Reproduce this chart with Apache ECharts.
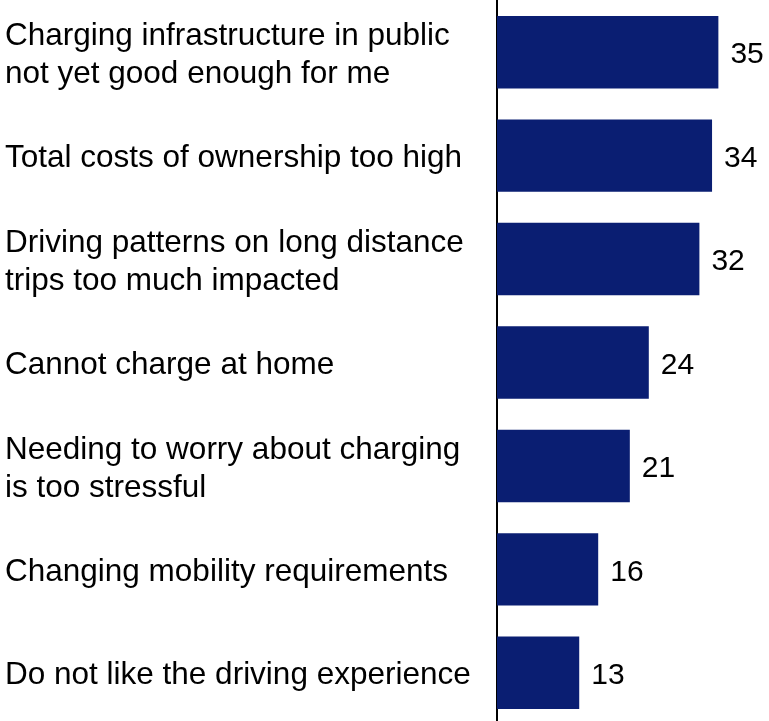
<!DOCTYPE html>
<html>
<head>
<meta charset="utf-8">
<script src="https://cdn.jsdelivr.net/npm/echarts@6/dist/echarts.min.js"></script>
<style>
  html, body { margin: 0; padding: 0; background: #ffffff; }
  #chart { width: 769px; height: 721px; }
</style>
</head>
<body>
<div id="chart"></div>
<script>
// Reasons given, top to bottom
const categories = [
  'Charging infrastructure in public\nnot yet good enough for me',
  'Total costs of ownership too high',
  'Driving patterns on long distance\ntrips too much impacted',
  'Cannot charge at home',
  'Needing to worry about charging\nis too stressful',
  'Changing mobility requirements',
  'Do not like the driving experience'
];
// Share of respondents per reason
const values = [35, 34, 32, 24, 21, 16, 13];

const FONT = 'Arial, "Liberation Sans", sans-serif';

const chart = echarts.init(document.getElementById('chart'), null, { renderer: 'canvas' });
chart.setOption({
  animation: false,
  backgroundColor: '#ffffff',
  grid: {
    left: 497, width: 253, top: 0.5, height: 724,
    containLabel: false,
    outerBoundsMode: 'none'
  },
  xAxis: {
    type: 'value',
    min: 0,
    max: 40,
    show: false
  },
  yAxis: {
    type: 'category',
    data: categories,
    inverse: true,
    axisLine: { show: true, lineStyle: { color: '#000000', width: 2 } },
    axisTick: { show: false },
    splitLine: { show: false },
    axisLabel: {
      align: 'left',
      margin: 492,
      // each line is a rich token with a small top pad so the text sits on the bar's centre line
      formatter: (v) => v.split('\n').map((s) => '{t|' + s + '}').join('\n'),
      rich: {
        t: {
          color: '#000000',
          fontFamily: FONT,
          fontSize: 31.5,
          lineHeight: 38,
          padding: [6, 0, 0, 0]
        }
      }
    }
  },
  series: [{
    type: 'bar',
    data: values,
    barCategoryGap: '30%',
    itemStyle: { color: '#0a1e72' },
    label: {
      show: true,
      position: 'right',
      distance: 12,
      offset: [0, 3],
      color: '#000000',
      fontFamily: FONT,
      fontSize: 30
    }
  }]
});
</script>
</body>
</html>
